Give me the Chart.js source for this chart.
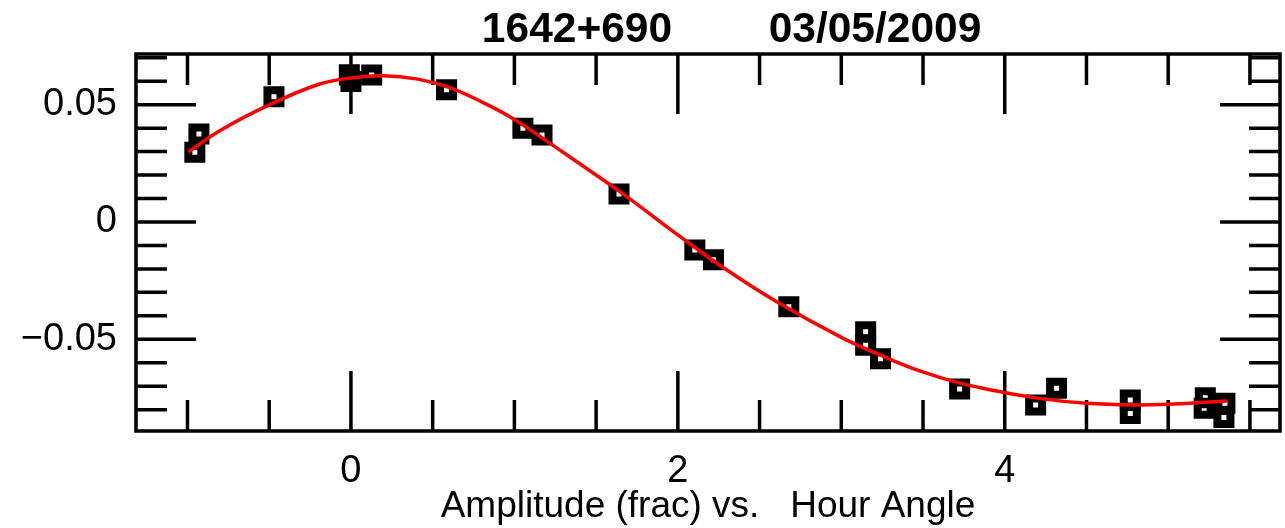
<!DOCTYPE html>
<html>
<head>
<meta charset="utf-8">
<title>1642+690 amplitude vs hour angle</title>
<script src="https://cdn.jsdelivr.net/npm/chart.js@4"></script>
<style>
  html, body { margin: 0; padding: 0; background: #fff; }
  canvas { display: block; }
</style>
</head>
<body>
<canvas id="chart" width="1285" height="528"></canvas>
<script>
// Measured fractional amplitude at each hour angle
const hourAngle = [-0.955, -0.93, -0.471, -0.01, 0.0, 0.127, 0.585, 1.052, 1.169, 1.64,
                   2.104, 2.218, 2.679, 3.149, 3.149, 3.24, 3.724, 4.189, 4.317,
                   4.768, 4.768, 5.22, 5.227, 5.347, 5.341];
const amplitude = [0.0297, 0.0375, 0.0534, 0.0627, 0.0599, 0.0626, 0.0564, 0.0400, 0.0371, 0.0119,
                   -0.0119, -0.0161, -0.0361, -0.0468, -0.0525, -0.0583, -0.0712, -0.0780, -0.0709,
                   -0.0759, -0.0816, -0.0794, -0.0749, -0.0773, -0.0833];

// Fitted model curve, sampled along hour angle
const fitHour = [-0.995, -0.8, -0.5, -0.2, 0.0, 0.2, 0.4, 0.6, 0.8, 1.0, 1.3, 1.5, 1.7,
                 2.0, 2.3, 2.6, 3.0, 3.24, 3.48, 3.72, 3.97, 4.22, 4.5, 4.8, 5.0, 5.2, 5.36];
const fitAmp  = [0.0298, 0.0390, 0.0499, 0.0586, 0.0614, 0.0623, 0.0610, 0.0574, 0.0512, 0.0437,
                 0.0296, 0.0200, 0.0102, -0.0055, -0.0205, -0.0338, -0.0492, -0.0568, -0.0635,
                 -0.0686, -0.0723, -0.0753, -0.0773, -0.0780, -0.0777, -0.0770, -0.0763];

// Labelled tick values
const xTickLabels = [0, 2, 4];
const yTickLabels = [-0.05, 0, 0.05];

const titleSource = '1642+690';
const titleDate = '03/05/2009';
const xAxisTitle = 'Amplitude (frac) vs.   Hour Angle';

const near = (a, b) => Math.abs(a - b) < 1e-9;
const isMultiple = (v, step) => near(Math.round(v / step) * step, v);
const fmtY = v => near(v, 0) ? '0' : (v < 0 ? '\u2212' : '') + Math.abs(v).toFixed(2);

const tickFont = { family: 'Liberation Sans, Arial, sans-serif', size: 38 };
const labelFont = { family: 'Liberation Sans, Arial, sans-serif', size: 37 };

// Boxed frame with inward tick marks on all four sides, plus the two-part heading
const framePlugin = {
  id: 'frameTicks',
  beforeDatasetsDraw(chart) {
    const { ctx, chartArea: a, scales } = chart;
    ctx.save();
    ctx.strokeStyle = '#000';
    ctx.lineWidth = 3.5;
    ctx.lineCap = 'butt';
    ctx.beginPath();
    scales.x.ticks.forEach(t => {
      const px = scales.x.getPixelForValue(t.value);
      const len = isMultiple(t.value, 2) ? 60 : 31;
      ctx.moveTo(px, a.bottom); ctx.lineTo(px, a.bottom - len);
      ctx.moveTo(px, a.top); ctx.lineTo(px, a.top + len);
    });
    scales.y.ticks.forEach(t => {
      const py = scales.y.getPixelForValue(t.value);
      const len = isMultiple(t.value, 0.05) ? 60 : 31;
      ctx.moveTo(a.left, py); ctx.lineTo(a.left + len, py);
      ctx.moveTo(a.right, py); ctx.lineTo(a.right - len, py);
    });
    ctx.stroke();
    ctx.strokeRect(a.left, a.top, a.right - a.left, a.bottom - a.top);
    ctx.restore();
  },
  afterDraw(chart) {
    const { ctx, chartArea: a } = chart;
    const cx = (a.left + a.right) / 2;
    ctx.save();
    ctx.fillStyle = '#000';
    ctx.font = 'bold 42.5px "Liberation Sans", Arial, sans-serif';
    ctx.textAlign = 'center';
    ctx.textBaseline = 'alphabetic';
    ctx.fillText(titleSource, cx - 131, 42);
    ctx.fillText(titleDate, cx + 167, 42);
    ctx.restore();
  }
};

new Chart(document.getElementById('chart'), {
  type: 'scatter',
  data: {
    datasets: [
      {
        type: 'line',
        data: fitHour.map((x, i) => ({ x, y: fitAmp[i] })),
        borderColor: '#ff0000',
        borderWidth: 3.5,
        pointRadius: 0,
        fill: false,
        tension: 0.4,
        order: 0
      },
      {
        data: hourAngle.map((x, i) => ({ x, y: amplitude[i] })),
        pointStyle: 'rect',
        pointRadius: 9.2,
        borderWidth: 8,
        borderColor: '#000',
        backgroundColor: 'rgba(0,0,0,0)',
        order: 1
      }
    ]
  },
  options: {
    responsive: false,
    animation: false,
    events: [],
    layout: { autoPadding: false, padding: { top: 54, right: 5, left: 0, bottom: 0 } },
    plugins: { legend: { display: false }, tooltip: { enabled: false }, title: { display: false } },
    scales: {
      x: {
        type: 'linear',
        position: 'bottom',
        min: -1.315,
        max: 5.684,
        grid: { display: false },
        border: { display: false },
        ticks: {
          stepSize: 0.5,
          includeBounds: false,
          autoSkip: false,
          maxRotation: 0,
          padding: 10,
          color: '#000',
          font: tickFont,
          callback: v => xTickLabels.some(l => near(l, v)) ? String(Math.round(v)) : ''
        },
        title: {
          display: true,
          text: xAxisTitle,
          color: '#000',
          font: labelFont,
          padding: { top: 0, bottom: -1 }
        },
        afterFit(s) { s.height = 97; s.paddingLeft = 0; s.paddingRight = 0; }
      },
      y: {
        type: 'linear',
        position: 'left',
        min: -0.0891,
        max: 0.0716,
        grid: { display: false },
        border: { display: false },
        ticks: {
          stepSize: 0.01,
          includeBounds: false,
          autoSkip: false,
          padding: 11,
          color: '#000',
          font: tickFont,
          callback: v => yTickLabels.some(l => near(l, v)) ? fmtY(v) : ''
        },
        afterFit(s) { s.width = 136; s.paddingTop = 0; s.paddingBottom = 0; }
      }
    }
  },
  plugins: [framePlugin]
});
</script>
</body>
</html>
